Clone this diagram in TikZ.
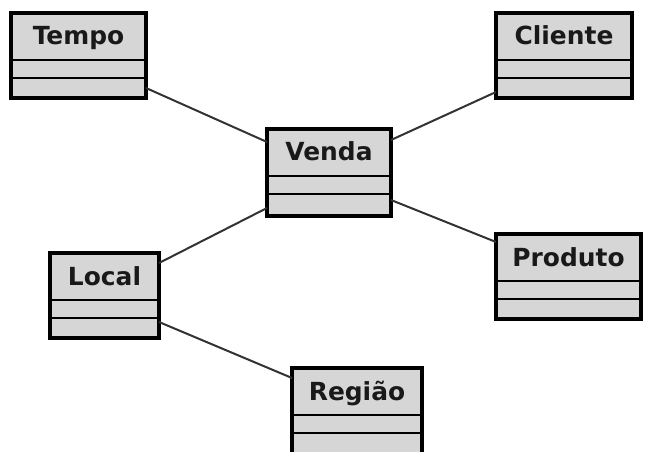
\documentclass[tikz,border=0pt]{standalone}
\usepackage{fontspec}
\setmainfont{DejaVu Sans}
\definecolor{boxfill}{HTML}{D6D6D6}
\definecolor{linkcol}{HTML}{333333}
\tikzset{
  umlbox/.style={draw=black, line width=4bp, fill=boxfill, inner sep=0pt, outer sep=0pt, anchor=north west},
  umlname/.style={anchor=base, inner sep=0pt, font=\fontsize{25}{29}\selectfont\bfseries, text=black!90},
  sepline/.style={draw=black, line width=2.4bp},
  link/.style={draw=linkcol, line width=2bp}
}
\newcommand\umlclass[6]{%
  \node[umlbox, minimum width=#4bp, minimum height=#5bp] (#1) at (#2,#3) {};
  \node[umlname] (#1-name) at ([yshift=-32bp]#1.north) {#6};
  \draw[sepline] ([yshift=-47bp]#1.north west) -- ([yshift=-47bp]#1.north east);
  \draw[sepline] ([yshift=-65bp]#1.north west) -- ([yshift=-65bp]#1.north east);
}
\begin{document}
\begin{tikzpicture}[x=1bp,y=-1bp]
\useasboundingbox[fill=white] (0,0) rectangle (645,452);
\umlclass{tempo}{11}{13}{135}{85}{Tempo}
\umlclass{cliente}{496}{13}{136}{85}{Cliente}
\umlclass{venda}{267}{129}{124}{87}{Venda}
\umlclass{local}{50}{253}{109}{85}{Local}
\umlclass{produto}{496}{234}{145}{85}{Produto}
\umlclass{regiao}{292}{368}{130}{95}{Região}
\draw[link] ([yshift=10bp]tempo.south east) -- ([yshift=-13bp]venda.north west);
\draw[link] ([yshift=6bp]cliente.south west) -- ([yshift=-11bp]venda.north east);
\draw[link] ([yshift=-10bp]local.north east) -- ([yshift=8bp]venda.south west);
\draw[link] ([yshift=16bp]venda.south east) -- ([yshift=-8bp]produto.north west);
\draw[link] ([yshift=16bp]local.south east) -- ([yshift=-10bp]regiao.north west);
\end{tikzpicture}
\end{document}
